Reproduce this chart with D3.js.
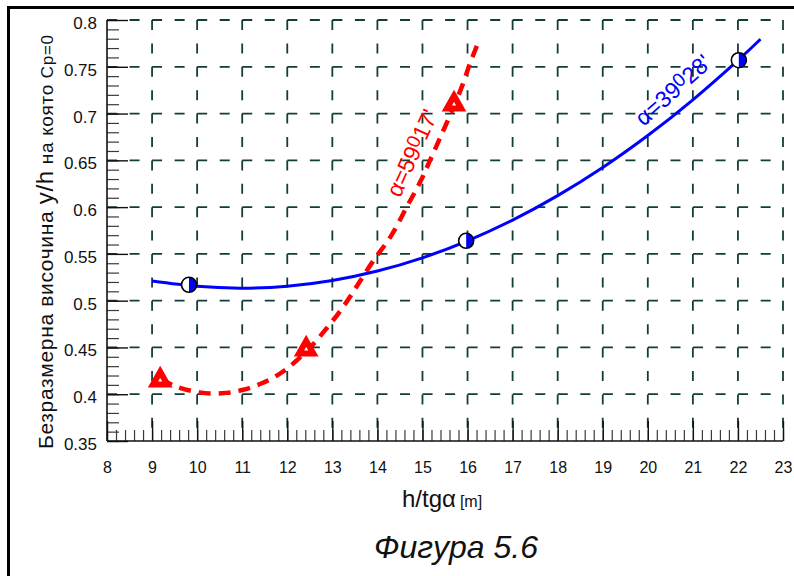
<!DOCTYPE html>
<html>
<head>
<meta charset="utf-8">
<script src="https://cdn.jsdelivr.net/npm/d3@7"></script>
<style>
  html, body { margin: 0; padding: 0; background: #fff; }
  svg { display: block; font-family: "Liberation Sans", Arial, sans-serif; }
</style>
</head>
<body>
<svg id="chart" width="794" height="576"></svg>
<script>
// Axis ticks
const xTickValues = [8, 9, 10, 11, 12, 13, 14, 15, 16, 17, 18, 19, 20, 21, 22, 23];
const yTickValues = [0.35, 0.4, 0.45, 0.5, 0.55, 0.6, 0.65, 0.7, 0.75, 0.8];
const yTickLabels = ["0.35", "0.4", "0.45", "0.5", "0.55", "0.6", "0.65", "0.7", "0.75", "0.8"];

// α = 39°28' : measured points and fitted curve
const blueMarkX = [9.82, 15.97, 22.02];
const blueMarkY = [0.517, 0.564, 0.757];
const blueCurveX = [9, 10, 11, 12, 13, 14, 15, 16, 17, 18, 19, 20, 21, 22, 22.5];
const blueCurveY = [0.521, 0.5153, 0.5134, 0.5155, 0.5216, 0.5317, 0.5458, 0.564, 0.5861, 0.6123, 0.6424, 0.6766, 0.7147, 0.7569, 0.7795];

// α = 59°17' : measured points and fitted curve
const redMarkX = [9.18, 12.42, 15.7];
const redMarkY = [0.416, 0.449, 0.711];
const redCurveX = [9.2, 9.55, 10.05, 10.55, 11.0, 11.45, 11.9, 12.45, 12.9, 13.25, 13.55, 13.9, 14.3, 14.65, 14.95, 15.15, 15.4, 15.7, 15.9, 16.05, 16.27];
const redCurveY = [0.416, 0.408, 0.402, 0.401, 0.4045, 0.412, 0.424, 0.447, 0.472, 0.494, 0.516, 0.542, 0.569, 0.6, 0.627, 0.648, 0.675, 0.708, 0.732, 0.753, 0.78];

const svg = d3.select("#chart");
const x = d3.scaleLinear().domain([8, 23]).range([107, 783]);
const y = d3.scaleLinear().domain([0.35, 0.8]).range([441, 20]);

const gridColor = "#123d38";

// outer frame
svg.append("rect")
  .attr("x", 8.5).attr("y", 7.5).attr("width", 900).attr("height", 700)
  .attr("fill", "none").attr("stroke", "#000").attr("stroke-width", 3);

// dashed grid
const grid = svg.append("g");
grid.selectAll("line.v").data(xTickValues.filter(d => d > 8)).join("line")
  .attr("x1", d => x(d)).attr("x2", d => x(d))
  .attr("y1", y(0.8)).attr("y2", y(0.35))
  .attr("stroke", gridColor).attr("stroke-width", 1.8)
  .attr("stroke-dasharray", "10,13.4");
grid.selectAll("line.h").data(yTickValues.filter(d => d > 0.35)).join("line")
  .attr("x1", x(8)).attr("x2", x(23))
  .attr("y1", d => y(d)).attr("y2", d => y(d))
  .attr("stroke", gridColor).attr("stroke-width", 1.8)
  .attr("stroke-dasharray", "10,12.54");

// minor ticks
const xMinor = d3.range(8, 23.001, 0.2);
const yMinor = d3.range(0.35, 0.8001, 0.01);
const gxMinor = svg.append("g").attr("transform", `translate(0,${y(0.35)})`)
  .call(d3.axisBottom(x).tickValues(xMinor).tickSize(-11).tickFormat(""));
gxMinor.select(".domain").remove();
gxMinor.selectAll("line").attr("stroke", "#3a3a3a").attr("stroke-width", 1.2);

const gyMinor = svg.append("g").attr("transform", `translate(${x(8)},0)`)
  .call(d3.axisLeft(y).tickValues(yMinor).tickSize(-12).tickFormat(""));
gyMinor.select(".domain").remove();
gyMinor.selectAll("line").attr("stroke", "#3a3a3a").attr("stroke-width", 1.2);

// major ticks and labels
const gx = svg.append("g").attr("transform", `translate(0,${y(0.35)})`)
  .call(d3.axisBottom(x).tickValues(xTickValues).tickSize(-20).tickPadding(21).tickFormat(d3.format("d")));
gx.select(".domain").attr("stroke", "#111").attr("stroke-width", 1.6).attr("d", `M${x(8)},0H${x(23)}`);
gx.selectAll("line").attr("stroke", "#111").attr("stroke-width", 1.4);
gx.selectAll("text").attr("font-size", 16).attr("fill", "#111").attr("font-family", "Liberation Sans, Arial, sans-serif");

const gy = svg.append("g").attr("transform", `translate(${x(8)},0)`)
  .call(d3.axisLeft(y).tickValues(yTickValues).tickSize(-21).tickPadding(10)
    .tickFormat((d, i) => yTickLabels[i]));
gy.select(".domain").attr("stroke", "#111").attr("stroke-width", 1.6).attr("d", `M0,${y(0.35)}V${y(0.8)}`);
gy.selectAll("line").attr("stroke", "#111").attr("stroke-width", 1.4);
gy.selectAll("text").attr("font-size", 17).attr("fill", "#111").attr("dy", "0.5em")
  .attr("font-family", "Liberation Sans, Arial, sans-serif");

// curves
const line = d3.line().x(d => x(d[0])).y(d => y(d[1]));
svg.append("path")
  .datum(blueCurveX.map((v, i) => [v, blueCurveY[i]]))
  .attr("d", line.curve(d3.curveNatural))
  .attr("fill", "none").attr("stroke", "#0000ff").attr("stroke-width", 3);

svg.append("path")
  .datum(redCurveX.map((v, i) => [v, redCurveY[i]]))
  .attr("d", line.curve(d3.curveCatmullRom.alpha(0.5)))
  .attr("fill", "none").attr("stroke", "#ff0000").attr("stroke-width", 4.5)
  .attr("stroke-dasharray", "12,8");

// half-filled circle markers
const r = 7.5;
const circles = svg.append("g").selectAll("g")
  .data(blueMarkX.map((v, i) => [v, blueMarkY[i]])).join("g")
  .attr("transform", d => `translate(${x(d[0])},${y(d[1])})`);
circles.append("circle").attr("r", r).attr("fill", "#fff");
circles.append("path").attr("d", `M0,${-r}A${r},${r} 0 0 1 0,${r}Z`).attr("fill", "#0000ff");
circles.append("circle").attr("r", r).attr("fill", "none").attr("stroke", "#000").attr("stroke-width", 1.6);

// triangle markers
svg.append("g").selectAll("path")
  .data(redMarkX.map((v, i) => [v, redMarkY[i]])).join("path")
  .attr("transform", d => `translate(${x(d[0])},${y(d[1])})`)
  .attr("d", "M0,-7.5L7.2,5.2L-7.2,5.2Z")
  .attr("fill", "#fff").attr("stroke", "#ff0000").attr("stroke-width", 6)
  .attr("stroke-linejoin", "miter");

// curve labels
function curveLabel(cx, cy, angle, color, a, b) {
  const t = svg.append("text")
    .attr("transform", `translate(${cx},${cy}) rotate(${angle})`)
    .attr("text-anchor", "middle").attr("dominant-baseline", "central")
    .attr("font-size", 23).attr("fill", color);
  t.append("tspan").text("α=" + a);
  t.append("tspan").attr("font-size", 19).attr("dy", -4).text("0");
  t.append("tspan").attr("dy", 4).text(b);
}
curveLabel(412, 153, -65.5, "#ff0000", "59", "17'");
curveLabel(673, 90, -42, "#0000ff", "39", "28'");

// axis titles
const yt = svg.append("text")
  .attr("transform", "translate(53,449) rotate(-90)")
  .attr("fill", "#111").attr("text-anchor", "start")
  .attr("textLength", 414).attr("lengthAdjust", "spacing");
yt.append("tspan").attr("font-size", 21).text("Безразмерна височина ");
yt.append("tspan").attr("font-size", 24).text("y/h");
yt.append("tspan").attr("font-size", 19).text(" на която ");
yt.append("tspan").attr("font-size", 17).text("Cp=0");

const xt = svg.append("text").attr("x", 402).attr("y", 507).attr("fill", "#111");
xt.append("tspan").attr("font-size", 24).text("h/tgα");
xt.append("tspan").attr("font-size", 16).attr("dx", 4).text("[m]");

// caption
svg.append("text").attr("x", 456).attr("y", 558).attr("text-anchor", "middle")
  .attr("font-size", 32).attr("font-style", "italic").attr("fill", "#111")
  .text("Фигура 5.6");
</script>
</body>
</html>
